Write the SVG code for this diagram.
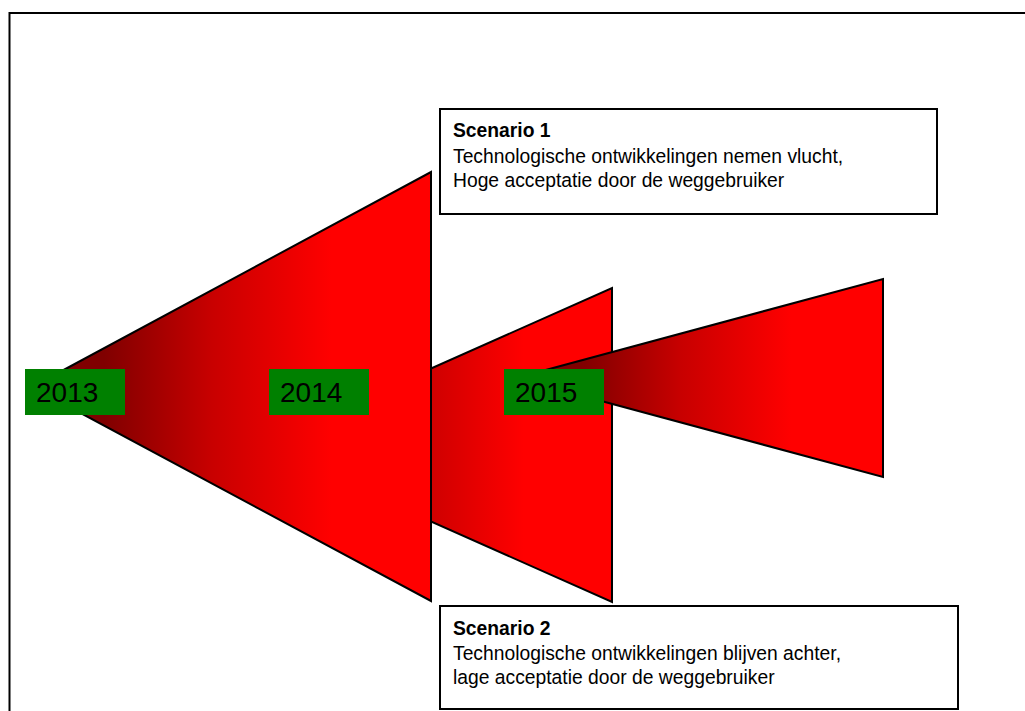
<svg xmlns="http://www.w3.org/2000/svg" width="1025" height="711" viewBox="0 0 1025 711">
<defs>
<linearGradient id="redgrad" x1="0" y1="0" x2="1" y2="0">
<stop offset="0.18" stop-color="#800000"/>
<stop offset="0.45" stop-color="#c80000"/>
<stop offset="0.75" stop-color="#ff0000"/>
</linearGradient>
</defs>
<style>
.tri{fill:url(#redgrad);stroke:#000;stroke-width:2;stroke-linejoin:miter}
.year rect{fill:#008000}
.year text{font-family:"Liberation Sans",Arial,sans-serif;font-size:28px;fill:#000}
.scen rect{fill:#fff;stroke:#000;stroke-width:2}
.scen text{font-family:"Liberation Sans",Arial,sans-serif;font-size:19.3px;fill:#000}
.scen .b{font-weight:bold}
</style>
<rect x="0" y="0" width="1025" height="711" fill="#fff"/>
<rect id="frame" x="9.5" y="13" width="1030" height="720" fill="none" stroke="#000" stroke-width="2"/>
<g id="connectors"></g>
<g id="shape2"><polygon class="tri" points="259,445 612,288 612,602"/></g>
<g id="shape1"><polygon class="tri" points="32,387 431,172 431,601"/></g>
<g id="shape3"><polygon class="tri" points="516,378 883,279 883,477"/></g>
<g id="y2013" class="year"><rect x="25" y="369" width="100" height="46"/><text x="36" y="402">2013</text></g>
<g id="y2014" class="year"><rect x="269" y="369" width="100" height="46"/><text x="280" y="402">2014</text></g>
<g id="y2015" class="year"><rect x="504" y="369" width="100" height="46"/><text x="515" y="402">2015</text></g>
<g id="scenario1" class="scen"><rect x="440" y="109" width="497" height="105"/>
<text class="b" x="453" y="137">Scenario 1</text>
<text x="453" y="163">Technologische ontwikkelingen nemen vlucht,</text>
<text x="453" y="187">Hoge acceptatie door de weggebruiker</text></g>
<g id="scenario2" class="scen"><rect x="440" y="606" width="518" height="103"/>
<text class="b" x="453" y="635">Scenario 2</text>
<text x="453" y="660">Technologische ontwikkelingen blijven achter,</text>
<text x="453" y="684">lage acceptatie door de weggebruiker</text></g>
</svg>
